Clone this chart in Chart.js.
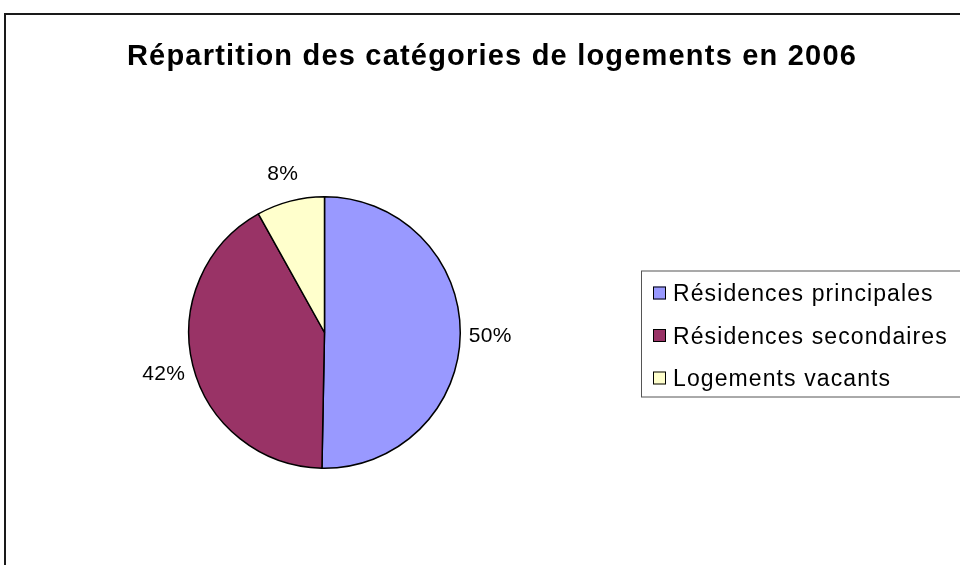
<!DOCTYPE html>
<html>
<head>
<meta charset="utf-8">
<script src="https://cdn.jsdelivr.net/npm/chart.js@4/dist/chart.umd.min.js"></script>
<style>
  html, body { margin: 0; padding: 0; background: #ffffff; }
  #wrap { width: 960px; height: 565px; position: relative; }
</style>
</head>
<body>
<div id="wrap"><canvas id="c" width="960" height="565"></canvas></div>
<script>
const chartTitle = "Répartition des catégories de logements en 2006";
const categories = ["Résidences principales", "Résidences secondaires", "Logements vacants"];
const shares = [50.3, 41.6, 8.1];
const sliceColors = ["#9999FF", "#993366", "#FFFFCC"];

const FONT = '"Liberation Sans", Arial, Helvetica, sans-serif';

const decorPlugin = {
  id: 'decor',
  afterDraw(chart) {
    const ctx = chart.ctx;
    ctx.save();
    // outer frame
    ctx.strokeStyle = '#1a1a1a';
    ctx.lineWidth = 2;
    ctx.strokeRect(5, 14, 970, 570);

    // title
    ctx.fillStyle = '#000';
    ctx.font = 'bold 29px ' + FONT;
    ctx.textAlign = 'center';
    ctx.textBaseline = 'alphabetic';
    ctx.letterSpacing = '1.2px';
    ctx.fillText(chartTitle, 492, 65);

    // percentage labels
    const meta = chart.getDatasetMeta(0);
    const total = shares.reduce((a, b) => a + b, 0);
    ctx.font = '21px ' + FONT;
    ctx.letterSpacing = '0.3px';
    meta.data.forEach((arc, i) => {
      const p = arc.getProps(['x', 'y', 'startAngle', 'endAngle', 'outerRadius'], true);
      const mid = (p.startAngle + p.endAngle) / 2;
      const rr = p.outerRadius + 30;
      const lx = p.x + Math.cos(mid) * rr;
      const ly = p.y + Math.sin(mid) * rr;
      const txt = Math.round(shares[i] / total * 100) + '%';
      ctx.textAlign = 'center';
      ctx.fillText(txt, lx, ly + 7.5);
    });

    // legend
    const lgLeft = 641.5, lgTop = 271, lgBottom = 397;
    ctx.strokeStyle = '#555';
    ctx.lineWidth = 1;
    ctx.strokeRect(lgLeft, lgTop, 400, lgBottom - lgTop);
    ctx.font = '23px ' + FONT;
    ctx.letterSpacing = '1.1px';
    ctx.textAlign = 'left';
    const rowH = 42.5;
    categories.forEach((name, i) => {
      const cy = 293 + i * rowH;
      ctx.fillStyle = sliceColors[i];
      ctx.fillRect(653, cy - 6.5, 13, 13);
      ctx.strokeStyle = '#000';
      ctx.lineWidth = 1;
      ctx.strokeRect(653.5, cy - 6, 12, 12);
      ctx.fillStyle = '#000';
      ctx.fillText(name, 673, cy + 8);
    });
    ctx.restore();
  }
};

new Chart(document.getElementById('c'), {
  type: 'pie',
  data: {
    labels: categories,
    datasets: [{
      data: shares,
      backgroundColor: sliceColors,
      borderColor: '#000000',
      borderWidth: 1.5
    }]
  },
  options: {
    responsive: false,
    animation: false,
    layout: { padding: { left: 188, right: 499, top: 196, bottom: 96 } },
    plugins: {
      legend: { display: false },
      title: { display: false },
      tooltip: { enabled: false }
    }
  },
  plugins: [decorPlugin]
});
</script>
</body>
</html>
